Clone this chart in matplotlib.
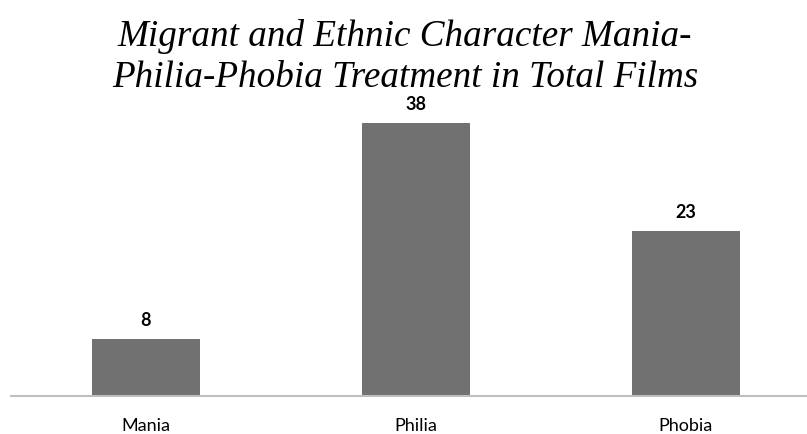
import matplotlib.pyplot as plt

categories = ["Mania", "Philia", "Phobia"]
counts = [8, 38, 23]

W, H = 807, 434
fig = plt.figure(figsize=(W / 100, H / 100), dpi=100)

# axes placed in pixel terms: baseline at y=396, slots of 270 px
left, right, bottom, top = 10.5, 820.5, 396, 396 - 40 * 7.18
ax = fig.add_axes([left / W, (H - bottom) / H, (right - left) / W, (bottom - top) / H])

x = range(len(categories))
bars = ax.bar(x, counts, width=0.4, color="#717171", zorder=2)
ax.set_xlim(-0.5, 2.5)
ax.set_ylim(0, 40)

for s in ["top", "left", "right"]:
    ax.spines[s].set_visible(False)
ax.spines["bottom"].set_color("#bfbfbf")
ax.spines["bottom"].set_linewidth(1.5)
ax.set_yticks([])
ax.set_xticks(list(x))
ax.set_xticklabels(categories, fontfamily="Lato", fontsize=13)
ax.tick_params(axis="x", length=0, pad=16, colors="black")

for rect, v in zip(bars, counts):
    ax.annotate(str(v), (rect.get_x() + rect.get_width() / 2, v),
                xytext=(0, 7), textcoords="offset points",
                ha="center", va="bottom", fontfamily="Lato",
                fontweight="bold", fontsize=13)

fig.text(405 / W, 1 - 57 / H,
         "Migrant and Ethnic Character Mania-\nPhilia-Phobia Treatment in Total Films",
         ha="center", va="center", fontfamily="Liberation Serif",
         style="italic", fontsize=26.7, linespacing=1.22)

fig.savefig("out.png", dpi=100)
